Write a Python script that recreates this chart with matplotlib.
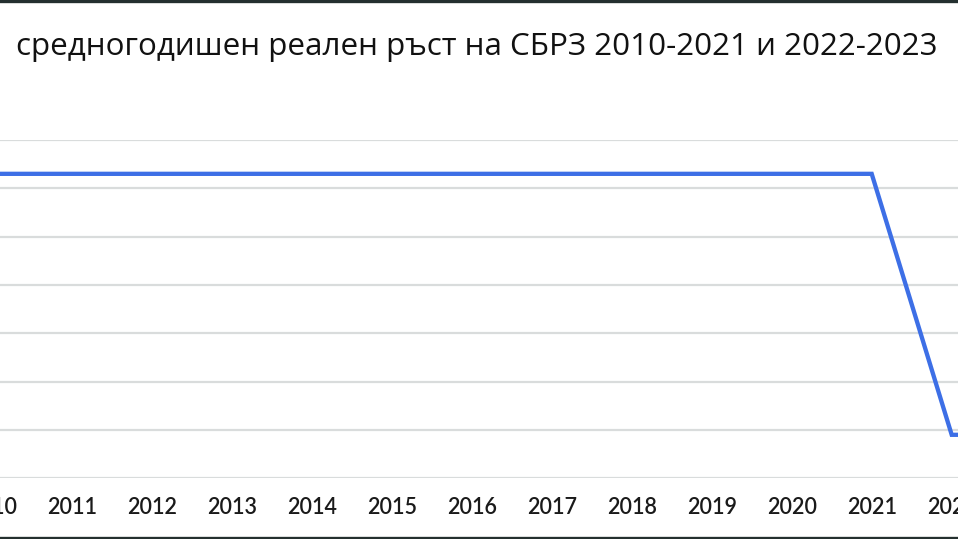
import matplotlib
matplotlib.use("Agg")
import matplotlib.pyplot as plt
from matplotlib.lines import Line2D

years = [2010, 2011, 2012, 2013, 2014, 2015, 2016, 2017, 2018, 2019, 2020, 2021, 2022, 2023]
growth = [6.3, 6.3, 6.3, 6.3, 6.3, 6.3, 6.3, 6.3, 6.3, 6.3, 6.3, 6.3, 0.9, 0.9]
yticks = [0, 1, 2, 3, 4, 5, 6, 7]
title = "средногодишен реален ръст на СБРЗ 2010-2021 и 2022-2023"

W, H = 958, 539
fig = plt.figure(figsize=(W / 100, H / 100), dpi=100)
fig.patch.set_facecolor("white")

ax = fig.add_axes([0, 1 - 478.3 / H, 1, (478.3 - 140) / H])
ax.set_facecolor("none")
ax.plot(years, growth, color="#3d6fe6", lw=3.1, solid_joinstyle="miter", zorder=3)
ax.set_yticks(yticks)
ax.set_xticks(years)
ax.set_xticklabels([])
ax.set_xlim(2021 - 871.7 / 80, 2021 + (W - 871.7) / 80)
ax.set_ylim(0, 7)
ax.tick_params(axis="x", length=0)
ax.tick_params(axis="y", length=0, labelleft=False)
ax.grid(axis="y", color="#d9dcdc", lw=1.6)
ax.grid(axis="x", visible=False)
for s in ax.spines.values():
    s.set_visible(False)

for y in years:
    ax.annotate(str(y), xy=(y, 0), xycoords=("data", "axes fraction"),
                xytext=(0, -29 * 0.72), textcoords="offset points",
                ha="center", va="center", fontsize=15.5, fontweight="semibold",
                fontfamily=["Lato", "DejaVu Sans"], color="#1a1a1a",
                annotation_clip=False)

fig.text(477, H - 55, title, transform=None, ha="center", va="baseline",
         fontsize=22.6, fontfamily=["Open Sans", "DejaVu Sans"], color="#111111")

fig.add_artist(Line2D([0, 1], [1 - 1.2 / H, 1 - 1.2 / H], transform=fig.transFigure,
                      color="#24302f", lw=2.4))
fig.add_artist(Line2D([0, 1], [1.2 / H, 1.2 / H], transform=fig.transFigure,
                      color="#24302f", lw=2.4))

fig.savefig("out.png", dpi=100)
